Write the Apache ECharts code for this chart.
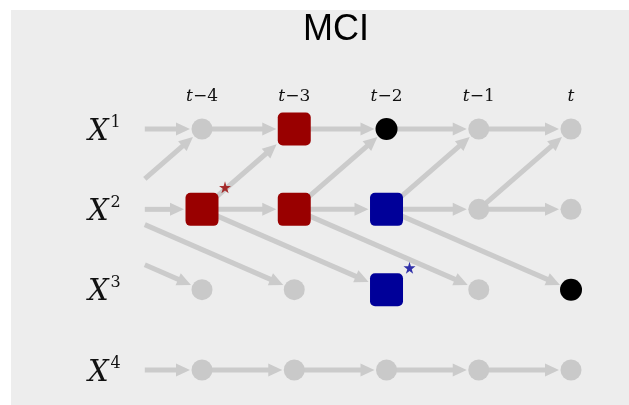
<!DOCTYPE html>
<html><head><meta charset="utf-8">
<script src="https://cdn.jsdelivr.net/npm/echarts@6/dist/echarts.min.js"></script>
<style>html,body{margin:0;padding:0;background:#fff}#c{width:629px;height:405px}</style>
</head><body><div id="c"></div>
<script>
// ---- data ----
const chartTitle = 'MCI';
const timeValues = [-4, -3, -2, -1, 0];
const timeLabels = [['t', '−4'], ['t', '−3'], ['t', '−2'], ['t', '−1'], ['t', '']];
const varIndex = [1, 2, 3, 4];
const varBase = ['X', 'X', 'X', 'X'];
const varSup = ['1', '2', '3', '4'];
// causal links: [source variable, target variable, lag]
const links = [[1, 1, 1], [2, 1, 1], [2, 2, 1], [2, 3, 2], [4, 4, 1]];
// highlighted nodes: [variable, time, group]
const highlighted = [
  [1, -3, 'condX'], [2, -4, 'condX'], [2, -3, 'condX'],
  [1, -2, 'pair'], [3, 0, 'pair'],
  [2, -2, 'condY'], [3, -2, 'condY']
];
// starred nodes: [variable, time, group]
const starred = [[2, -4, 'condX'], [3, -2, 'condY']];

// ---- styles ----
const GROUP_COLOR = { none: '#c9c9c9', condX: '#990000', condY: '#000099', pair: '#000000' };
const GROUP_SHAPE = { none: 'circle', condX: 'square', condY: 'square', pair: 'circle' };
const EDGE = '#cbcbcb';
const R = 10.5, HALF = 16.5, HEAD_L = 14, HEAD_W = 6.5, STUB_X = -4.62;

function groupOf(v, t) {
  const h = highlighted.find(d => d[0] === v && d[1] === t);
  return h ? h[2] : 'none';
}

const nodeData = [];
varIndex.forEach(v => timeValues.forEach(t => {
  nodeData.push([t, v, groupOf(v, t)]);
}));
const edgeData = [];
links.forEach(([s, d, lag]) => timeValues.forEach(t => {
  edgeData.push([t - lag, s, t, d]);
}));

const chart = echarts.init(document.getElementById('c'), null, { renderer: 'canvas' });
chart.setOption({
  animation: false,
  backgroundColor: '#ffffff',
  graphic: [{ type: 'rect', z: -10, shape: { x: 11, y: 10, width: 618, height: 395 }, style: { fill: '#ededed' } }],
  title: {
    text: chartTitle, left: 298, top: 7,
    textStyle: { fontSize: 36, fontWeight: 'normal', fontFamily: 'Liberation Sans', color: '#000' }
  },
  grid: { left: 109.75, top: 48.67, width: 507.4, height: 353.5 },
  xAxis: {
    type: 'value', position: 'top', min: -5, max: 0.5, interval: 1, offset: -64,
    axisLine: { show: false }, axisTick: { show: false }, splitLine: { show: false },
    axisLabel: {
      margin: 8,
      formatter: v => {
        const i = timeValues.indexOf(v);
        if (i < 0) return '';
        return '{i|' + timeLabels[i][0] + '}' + (timeLabels[i][1] ? '{n|' + timeLabels[i][1] + '}' : '');
      },
      rich: {
        i: { fontFamily: 'DejaVu Serif', fontStyle: 'italic', fontSize: 17, color: '#111' },
        n: { fontFamily: 'DejaVu Serif', fontSize: 17, color: '#111' }
      }
    }
  },
  yAxis: {
    type: 'value', inverse: true, min: 0, max: 4.4, interval: 1, offset: -13,
    axisLine: { show: false }, axisTick: { show: false }, splitLine: { show: false },
    axisLabel: {
      margin: 2,
      formatter: v => {
        const i = varIndex.indexOf(v);
        if (i < 0) return '';
        return '{x|' + varBase[i] + '}{s|' + varSup[i] + '}';
      },
      rich: {
        x: { fontFamily: 'DejaVu Serif', fontStyle: 'italic', fontSize: 29, color: '#111', padding: [6, 0, 0, 0] },
        s: { fontFamily: 'DejaVu Serif', fontSize: 16, color: '#111', verticalAlign: 'top', padding: [3, 0, 0, 2] }
      }
    }
  },
  series: [
    {
      type: 'custom', coordinateSystem: 'cartesian2d', z: 1, silent: true,
      data: edgeData,
      renderItem: (params, api) => {
        const x1 = api.value(0), y1 = api.value(1), x2 = api.value(2), y2 = api.value(3);
        let sx = x1, sy = y1;
        if (x1 < STUB_X) { const f = (STUB_X - x1) / (x2 - x1); sx = STUB_X; sy = y1 + f * (y2 - y1); }
        const p1 = api.coord([sx, sy]), p2 = api.coord([x2, y2]);
        const dx = p2[0] - p1[0], dy = p2[1] - p1[1], L = Math.hypot(dx, dy);
        const ux = dx / L, uy = dy / L;
        const g = groupOf(y2, x2);
        let gap;
        if (GROUP_SHAPE[g] === 'square') {
          gap = Math.min(Math.abs(ux) > 1e-6 ? HALF / Math.abs(ux) : 1e9, Math.abs(uy) > 1e-6 ? HALF / Math.abs(uy) : 1e9);
        } else gap = R;
        gap += 1.5;
        const tip = [p2[0] - ux * gap, p2[1] - uy * gap];
        const base = [tip[0] - ux * HEAD_L, tip[1] - uy * HEAD_L];
        const nx = -uy, ny = ux;
        return {
          type: 'group', children: [
            { type: 'line', shape: { x1: p1[0], y1: p1[1], x2: base[0] + ux * 2, y2: base[1] + uy * 2 }, style: { stroke: EDGE, lineWidth: 5 } },
            { type: 'polygon', shape: { points: [tip, [base[0] + nx * HEAD_W, base[1] + ny * HEAD_W], [base[0] - nx * HEAD_W, base[1] - ny * HEAD_W]] }, style: { fill: EDGE } }
          ]
        };
      }
    },
    {
      type: 'custom', coordinateSystem: 'cartesian2d', z: 2, silent: true,
      data: nodeData,
      renderItem: (params, api) => {
        const p = api.coord([api.value(0), api.value(1)]);
        const g = nodeData[params.dataIndex][2];
        const col = GROUP_COLOR[g];
        if (GROUP_SHAPE[g] === 'square') {
          return { type: 'rect', shape: { x: p[0] - HALF, y: p[1] - HALF, width: 2 * HALF, height: 2 * HALF, r: 5 }, style: { fill: col } };
        }
        return { type: 'circle', shape: { cx: p[0], cy: p[1], r: g === 'pair' ? 11 : R }, style: { fill: col } };
      }
    },
    {
      type: 'scatter', z: 3, silent: true,
      symbol: 'path://M50,0 L61,35 L98,35 L68,57 L79,91 L50,70 L21,91 L32,57 L2,35 L39,35 Z',
      symbolSize: 12, symbolOffset: [23, -22],
      data: starred.map(s => ({ value: [s[1], s[0]], itemStyle: { color: GROUP_COLOR[s[2]] } }))
    }
  ]
});
</script>
</body></html>
